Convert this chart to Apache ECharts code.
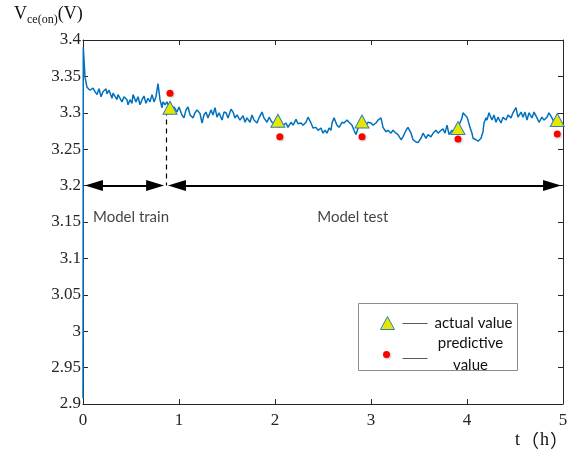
<!DOCTYPE html>
<html><head><meta charset="utf-8">
<script src="https://cdn.jsdelivr.net/npm/echarts/dist/echarts.min.js"></script>
<style>html,body{margin:0;padding:0;background:#fff}#c{width:575px;height:451px}</style>
</head><body><div id="c"></div>
<script>
// measured trace: time (h) and Vce(on) (V)
const timeH = [0,0.003,0.021,0.042,0.073,0.104,0.125,0.146,0.167,0.188,0.208,0.240,0.250,0.271,0.302,0.313,0.333,0.354,0.365,0.385,0.406,0.427,0.458,0.469,0.490,0.510,0.521,0.552,0.573,0.594,0.615,0.635,0.656,0.677,0.698,0.719,0.740,0.760,0.781,0.802,0.823,0.833,0.854,0.875,0.896,0.927,0.948,0.979,1.000,1.031,1.052,1.073,1.094,1.115,1.146,1.167,1.188,1.219,1.240,1.260,1.281,1.302,1.333,1.354,1.375,1.396,1.417,1.448,1.469,1.490,1.510,1.542,1.563,1.583,1.604,1.635,1.667,1.688,1.708,1.740,1.760,1.781,1.813,1.833,1.865,1.885,1.917,1.938,1.969,1.990,2.021,2.042,2.063,2.083,2.115,2.135,2.167,2.188,2.219,2.240,2.271,2.292,2.323,2.344,2.375,2.396,2.427,2.448,2.479,2.500,2.521,2.542,2.563,2.583,2.594,2.615,2.646,2.667,2.698,2.719,2.750,2.771,2.802,2.823,2.844,2.865,2.896,2.917,2.948,2.969,3.000,3.021,3.052,3.073,3.104,3.125,3.156,3.177,3.208,3.229,3.260,3.281,3.313,3.333,3.365,3.385,3.417,3.438,3.469,3.490,3.521,3.542,3.573,3.594,3.625,3.646,3.677,3.698,3.729,3.750,3.771,3.792,3.813,3.844,3.865,3.896,3.917,3.948,3.958,3.979,4.000,4.010,4.031,4.052,4.063,4.094,4.115,4.146,4.167,4.177,4.198,4.208,4.229,4.260,4.281,4.302,4.323,4.354,4.375,4.406,4.427,4.458,4.479,4.510,4.531,4.563,4.583,4.604,4.625,4.646,4.677,4.698,4.729,4.750,4.781,4.802,4.833,4.854,4.885,4.906,4.938];
const vceOn = [2.908,3.390,3.349,3.335,3.331,3.334,3.329,3.325,3.333,3.322,3.329,3.333,3.326,3.331,3.320,3.327,3.329,3.318,3.325,3.327,3.315,3.322,3.318,3.311,3.318,3.313,3.325,3.315,3.322,3.311,3.318,3.323,3.313,3.320,3.315,3.325,3.315,3.322,3.340,3.318,3.307,3.315,3.311,3.315,3.308,3.304,3.308,3.301,3.308,3.297,3.293,3.304,3.308,3.297,3.293,3.300,3.304,3.299,3.286,3.297,3.301,3.293,3.304,3.297,3.307,3.294,3.300,3.290,3.301,3.300,3.293,3.305,3.301,3.293,3.297,3.290,3.296,3.287,3.293,3.287,3.297,3.290,3.286,3.293,3.301,3.293,3.287,3.294,3.287,3.286,3.290,3.280,3.287,3.283,3.286,3.280,3.287,3.283,3.291,3.285,3.286,3.283,3.287,3.294,3.286,3.279,3.280,3.276,3.279,3.272,3.276,3.272,3.279,3.276,3.286,3.293,3.283,3.280,3.287,3.286,3.290,3.287,3.283,3.276,3.270,3.279,3.283,3.286,3.283,3.287,3.286,3.283,3.286,3.290,3.293,3.280,3.274,3.276,3.272,3.276,3.272,3.270,3.263,3.267,3.276,3.280,3.272,3.263,3.260,3.259,3.265,3.272,3.265,3.270,3.267,3.272,3.276,3.272,3.276,3.278,3.272,3.283,3.270,3.276,3.274,3.279,3.283,3.293,3.300,3.297,3.294,3.290,3.280,3.272,3.265,3.263,3.261,3.265,3.274,3.286,3.293,3.290,3.300,3.290,3.297,3.287,3.294,3.286,3.294,3.290,3.297,3.293,3.300,3.307,3.294,3.301,3.294,3.301,3.290,3.300,3.293,3.301,3.293,3.287,3.294,3.290,3.294,3.300,3.293,3.287,3.290];
const actualTimes = [0.906, 2.03, 2.906, 3.906, 4.94];
const actualValues = [3.307, 3.289, 3.288, 3.279, 3.290];
const predictiveTimes = [0.906, 2.05, 2.906, 3.906, 4.94];
const predictiveValues = [3.327, 3.267, 3.267, 3.264, 3.271];
const splitTime = 0.865;
const splitTop = 3.303;
const arrowLevel = 3.2;
// arrow tip positions (h): [start, end] of each span
const arrowSpans = [[0.02, 0.845], [0.885, 4.98]];
const arrowHeadLen = 18;   // px
const phaseLabels = ['Model train', 'Model test'];
const phaseLabelTimes = [0.5, 2.81];
const phaseLabelLevel = 3.157;
const xMin = 0, xMax = 5, xStep = 1;
const yMin = 2.9, yMax = 3.4, yStep = 0.05;
const legendNames = ['actual value', 'predictive\nvalue'];

const zip = (a, b) => a.map((v, i) => [v, b[i]]);
const axisColor = '#262626';
const serif = '"Liberation Serif", "DejaVu Serif", serif';
const cjk = '"Noto Sans CJK SC", "Noto Sans CJK JP", sans-serif';
const sans = 'Lato, "Open Sans", sans-serif';

const grid = {left: 83, top: 40, width: 480, height: 364};
// arrow head is centred on the line end: inset the ends by half the head length
const inset = (arrowHeadLen / 2) / grid.width * (xMax - xMin);

const chart = echarts.init(document.getElementById('c'), null, {renderer: 'canvas'});
chart.setOption({
  animation: false,
  grid: grid,
  xAxis: [{
    type: 'value', min: xMin, max: xMax, interval: xStep,
    axisLine: {onZero: false, lineStyle: {color: axisColor, width: 1}},
    axisTick: {inside: true, length: 5, lineStyle: {color: axisColor}},
    axisLabel: {color: axisColor, fontFamily: serif, fontSize: 17, margin: 8},
    splitLine: {show: false}
  }, {
    type: 'value', min: xMin, max: xMax, interval: xStep, position: 'top',
    axisLine: {onZero: false, lineStyle: {color: axisColor, width: 1}},
    axisTick: {inside: true, length: 5, lineStyle: {color: axisColor}},
    axisLabel: {show: false}, splitLine: {show: false}
  }],
  yAxis: [{
    type: 'value', min: yMin, max: yMax, interval: yStep,
    axisLine: {onZero: false, lineStyle: {color: axisColor, width: 1}},
    axisTick: {inside: true, length: 5, lineStyle: {color: axisColor}},
    axisLabel: {color: axisColor, fontFamily: serif, fontSize: 17, margin: 2,
      formatter: v => String(+v.toFixed(2))},
    splitLine: {show: false}
  }, {
    type: 'value', min: yMin, max: yMax, interval: yStep, position: 'right',
    axisLine: {onZero: false, lineStyle: {color: axisColor, width: 1}},
    axisTick: {inside: true, length: 5, lineStyle: {color: axisColor}},
    axisLabel: {show: false}, splitLine: {show: false}
  }],
  series: [{
    name: 'trace', type: 'line', data: zip(timeH, vceOn), showSymbol: false, symbol: 'none',
    lineStyle: {color: '#0072BD', width: 1.5}, z: 2,
    markLine: {
      silent: true, symbol: ['triangle', 'triangle'], symbolSize: [11, arrowHeadLen],
      lineStyle: {color: '#000', width: 2, type: 'solid'}, label: {show: false},
      data: arrowSpans.map(s => [{coord: [s[0] + inset, arrowLevel]}, {coord: [s[1] - inset, arrowLevel]}])
    }
  }, {
    name: 'split', type: 'line', data: [],
    markLine: {
      silent: true, symbol: ['none', 'none'],
      lineStyle: {color: '#000', width: 1.2, type: [5, 4]}, label: {show: false},
      data: [[{coord: [splitTime, splitTop]}, {coord: [splitTime, arrowLevel]}]]
    }
  }, {
    name: 'actual value', type: 'scatter', data: zip(actualTimes, actualValues),
    symbol: 'triangle', symbolSize: [14, 13],
    itemStyle: {color: '#E6E600', borderColor: '#2f7fc1', borderWidth: 1, opacity: 1}, z: 5
  }, {
    name: 'predictive value', type: 'scatter', data: zip(predictiveTimes, predictiveValues),
    symbol: 'circle', symbolSize: 7,
    itemStyle: {color: '#FF0000', shadowColor: 'rgba(0,0,0,0.25)', shadowBlur: 2, shadowOffsetX: 1, shadowOffsetY: 1, opacity: 1}, z: 5
  }, {
    name: 'phases', type: 'scatter', symbolSize: 0, silent: true,
    data: phaseLabels.map((n, i) => ({value: [phaseLabelTimes[i], phaseLabelLevel], name: n})),
    label: {show: true, position: 'inside', formatter: p => p.name, color: '#111', fontFamily: sans, fontSize: 15}
  }],
  graphic: [
    {type: 'text', left: 14, top: 5, style: {
      text: '{v|V}{s|ce(on)}{v|(V)}',
      rich: {
        v: {fontFamily: serif, fontSize: 18, fill: '#111', verticalAlign: 'bottom', lineHeight: 22},
        s: {fontFamily: serif, fontSize: 12, fill: '#111', verticalAlign: 'bottom', lineHeight: 22, padding: [0,0,-3,0]}
      }}},
    {type: 'text', left: 515, top: 431, style: {
      text: '{a|t}{p|（}{a|h}{p|）}',
      rich: {
        a: {fontFamily: serif, fontSize: 18, fill: '#111', lineHeight: 22},
        p: {fontFamily: cjk, fontSize: 18, fill: '#111', lineHeight: 22, padding: [0, 1, 0, 1]}
      }}},
    {type: 'group', left: 358, top: 303, children: [
      {type: 'rect', shape: {x: 0, y: 0, width: 159, height: 67}, style: {fill: '#fff', stroke: '#8c8c8c', lineWidth: 1}},
      {type: 'polygon', shape: {points: [[29, 13], [22, 26], [36, 26]]}, style: {fill: '#E6E600', stroke: '#2f7fc1', lineWidth: 1}},
      {type: 'line', shape: {x1: 44, y1: 20, x2: 69, y2: 20}, style: {stroke: '#595959', lineWidth: 1}},
      {type: 'text', x: 76, y: 20, style: {text: legendNames[0], fontFamily: sans, fontSize: 15, fill: '#111', verticalAlign: 'middle'}},
      {type: 'circle', shape: {cx: 28, cy: 51, r: 3.5}, style: {fill: '#FF0000', shadowColor: 'rgba(0,0,0,0.25)', shadowBlur: 2, shadowOffsetX: 1, shadowOffsetY: 1}},
      {type: 'line', shape: {x1: 44, y1: 55, x2: 69, y2: 55}, style: {stroke: '#595959', lineWidth: 1}},
      {type: 'text', x: 112, y: 51, style: {text: legendNames[1], fontFamily: sans, fontSize: 15, fill: '#111', align: 'center', verticalAlign: 'middle', lineHeight: 22}}
    ]}
  ]
});
</script></body></html>
